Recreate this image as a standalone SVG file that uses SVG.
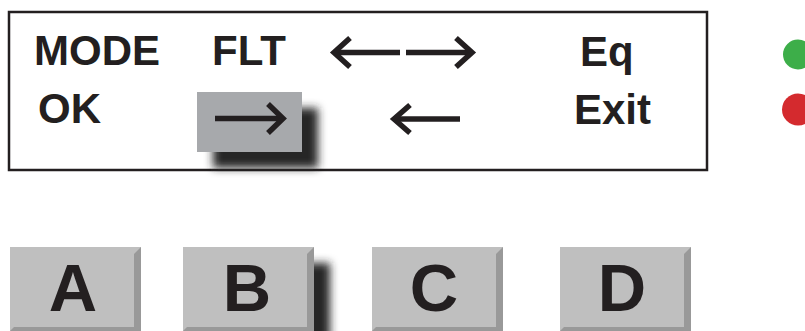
<svg xmlns="http://www.w3.org/2000/svg" width="805" height="331" viewBox="0 0 805 331">
<defs>
<filter id="blur" x="-30%" y="-30%" width="160%" height="160%"><feGaussianBlur stdDeviation="4"/></filter>
<style>
.lbl{font-family:"Liberation Sans",Arial,sans-serif;font-weight:bold;fill:#231f20}
.disp{font-size:42px}
.key{font-size:67px;text-anchor:middle}
.arr{stroke:#231f20;stroke-width:5.5;fill:none;stroke-linejoin:miter}
.face{fill:#bfbfbf}
.bevel{fill:#999999}
.shadow{fill:#262626;filter:url(#blur)}
</style>
</defs>
<rect width="805" height="331" fill="#ffffff"/>
<g id="display">
<rect x="9" y="12" width="698" height="158" fill="#ffffff" stroke="#231f20" stroke-width="2.5"/>
<text class="lbl disp" x="34" y="65">MODE</text>
<text class="lbl disp" x="212" y="65">FLT</text>
<text class="lbl disp" x="580" y="66">Eq</text>
<text class="lbl disp" x="38" y="123">OK</text>
<text class="lbl disp" x="574" y="124">Exit</text>
</g>
<g id="arrow-left-top">
<line class="arr" x1="334" y1="52.5" x2="400" y2="52.5"/>
<polyline class="arr" points="350,38 334,52.5 350,67"/>
</g>
<g id="arrow-right-top">
<line class="arr" x1="406" y1="52.5" x2="472" y2="52.5"/>
<polyline class="arr" points="456,38 472,52.5 456,67"/>
</g>
<g id="selected">
<rect class="shadow" x="213" y="108" width="105" height="60"/>
<rect x="197" y="92" width="105" height="60" fill="#a7a9ac"/>
<line class="arr" x1="215" y1="118.5" x2="283" y2="118.5"/>
<polyline class="arr" points="268,104 283,118.5 268,133"/>
</g>
<g id="arrow-left-bottom">
<line class="arr" x1="394" y1="119" x2="460" y2="119"/>
<polyline class="arr" points="410,105 394,119 410,133"/>
</g>
<g id="led-green"><circle cx="798" cy="54.5" r="15" fill="#3dae49"/></g>
<g id="led-red"><circle cx="798" cy="109.5" r="16" fill="#d42a2e"/></g>
<g id="key-A">
<rect class="face" x="10" y="247" width="131" height="84"/>
<polygon class="bevel" points="134,254 141,247 141,331 134,331"/>
<polygon class="bevel" points="10,331 14,327 134,327 138,331"/>
<text class="lbl key" x="73" y="311">A</text>
</g>
<g id="key-B">
<rect class="shadow" x="199" y="263" width="131" height="84"/>
<rect class="face" x="183" y="247" width="131" height="84"/>
<polygon class="bevel" points="307,254 314,247 314,331 307,331"/>
<polygon class="bevel" points="183,331 187,327 307,327 311,331"/>
<text class="lbl key" x="247" y="311">B</text>
</g>
<g id="key-C">
<rect class="face" x="372" y="247" width="131" height="84"/>
<polygon class="bevel" points="496,254 503,247 503,331 496,331"/>
<polygon class="bevel" points="372,331 376,327 496,327 500,331"/>
<text class="lbl key" x="434" y="311">C</text>
</g>
<g id="key-D">
<rect class="face" x="560" y="247" width="131" height="84"/>
<polygon class="bevel" points="684,254 691,247 691,331 684,331"/>
<polygon class="bevel" points="560,331 564,327 684,327 688,331"/>
<text class="lbl key" x="622" y="311">D</text>
</g>
</svg>
